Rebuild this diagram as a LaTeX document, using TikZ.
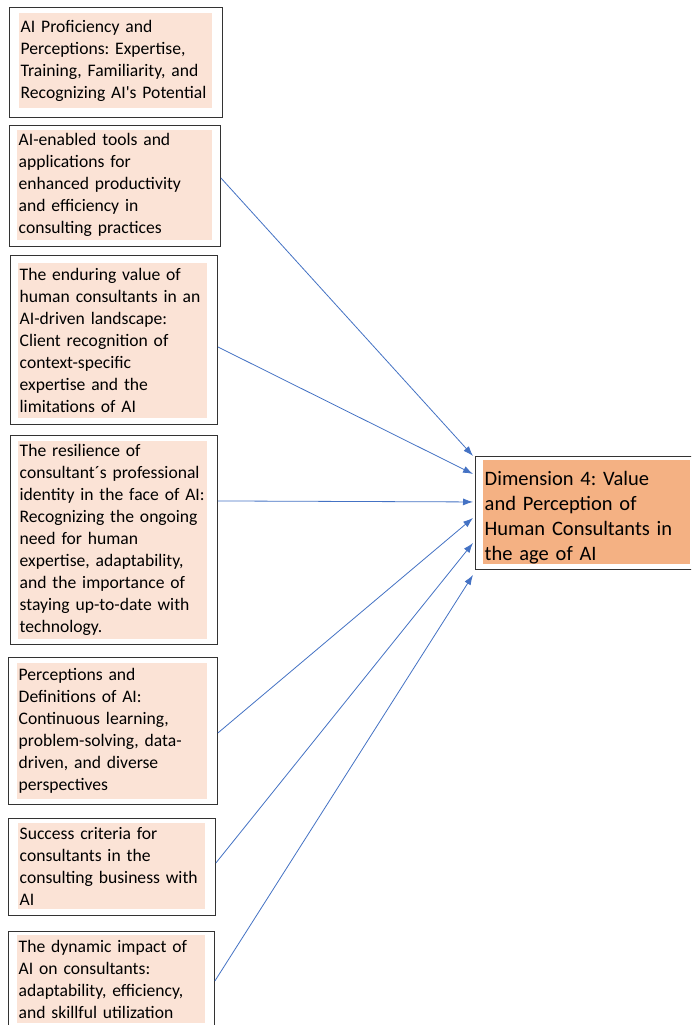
\documentclass[tikz,border=0pt]{standalone}
\usepackage{fontspec}
\setmainfont{Carlito}
\usetikzlibrary{
    arrows.meta,
    positioning
}
\definecolor{peach}{HTML}{FBE3D6}
\definecolor{salmon}{HTML}{F4B183}
\definecolor{linkblue}{HTML}{4472C4}
\tikzset{
    frame/.style={draw=black!80, line width=0.9pt, anchor=north west, inner sep=0pt},
    factor/.style={fill=peach, anchor=north west, inner xsep=1.5pt, inner ysep=0pt,
        align=left, font=\fontsize{17.6}{22}\selectfont\frenchspacing},
    link/.style={draw=linkblue, line width=0.8pt, -{Latex[length=10pt,width=7pt]}}
}

\begin{document}
\begin{tikzpicture}[x=1pt, y=-1pt]
    \clip (0,0) rectangle (691,1025);
    \fill[white] (0,0) rectangle (691,1025);
    % frames
    \path (9,7)    node [frame, minimum width=213pt, minimum height=110pt] (f1) {}
          (9,125)  node [frame, minimum width=211pt, minimum height=121pt] (f2) {}
          (10,255) node [frame, minimum width=207pt, minimum height=169pt] (f3) {}
          (10,435) node [frame, minimum width=207pt, minimum height=209pt] (f4) {}
          (8,657)  node [frame, minimum width=209pt, minimum height=147pt] (f5) {}
          (8,818)  node [frame, minimum width=207pt, minimum height=97pt]  (f6) {}
          (8,931)  node [frame, minimum width=206pt, minimum height=99pt]  (f7) {}
          (475,456) node [frame, minimum width=225pt, minimum height=113pt] (dim) {};
    % factors
    \node [factor, text width=190pt, minimum height=95pt] (t1) at (19,13)
        {AI Proficiency and\\Perceptions: Expertise,\\Training, Familiarity, and\\Recognizing AI\textquotesingle s Potential};
    \node [factor, text width=192pt, minimum height=110pt] (t2) at (17,130)
        {AI-enabled tools and\\applications for\\enhanced productivity\\and efficiency in\\consulting practices};
    \node [factor, text width=186pt, minimum height=155pt] (t3) at (18,263)
        {The enduring value of\\human consultants in an\\AI-driven landscape:\\Client recognition of\\context-specific\\expertise and the\\limitations of AI};
    \node [factor, text width=186pt, minimum height=198pt] (t4) at (18,441)
        {The resilience of\\consultant´s professional\\identity in the face of AI:\\Recognizing the ongoing\\need for human\\expertise, adaptability,\\and the importance of\\staying up-to-date with\\technology.};
    \node [factor, text width=187pt, minimum height=136pt] (t5) at (17,663)
        {Perceptions and\\Definitions of AI:\\Continuous learning,\\problem-solving, data-\\driven, and diverse\\perspectives};
    \node [factor, text width=184pt, minimum height=86pt] (t6) at (18,823)
        {Success criteria for\\consultants in the\\consulting business with\\AI};
    \node [factor, text width=185pt, minimum height=88pt] (t7) at (17,935)
        {The dynamic impact of\\AI on consultants:\\adaptability, efficiency,\\and skillful utilization};
    \node [factor, fill=salmon, text width=204pt, minimum height=102pt,
           font=\fontsize{20.5}{25.2}\selectfont\frenchspacing] (t8) at (483,460)
        {\rule{0pt}{25pt}Dimension 4: Value\\and Perception of\\Human Consultants in\\the age of AI};
    % links
    \draw [link] ([yshift=8pt]f2.east)  -- ([xshift=-2pt,yshift=57pt]dim.west);
    \draw [link] ([yshift=-7pt]f3.east) -- ([xshift=-2pt,yshift=39pt]dim.west);
    \draw [link] ([yshift=39pt]f4.east) -- ([xshift=-2pt,yshift=11pt]dim.west);
    \draw [link] ([yshift=-2pt]f5.east) -- ([xshift=-2pt,yshift=-5pt]dim.west);
    \draw [link] ([yshift=4pt]f6.east)  -- ([xshift=-2pt,yshift=-30pt]dim.west);
    \draw [link] (f7.east)              -- ([xshift=-2pt,yshift=-62pt]dim.west);
\end{tikzpicture}
\end{document}
